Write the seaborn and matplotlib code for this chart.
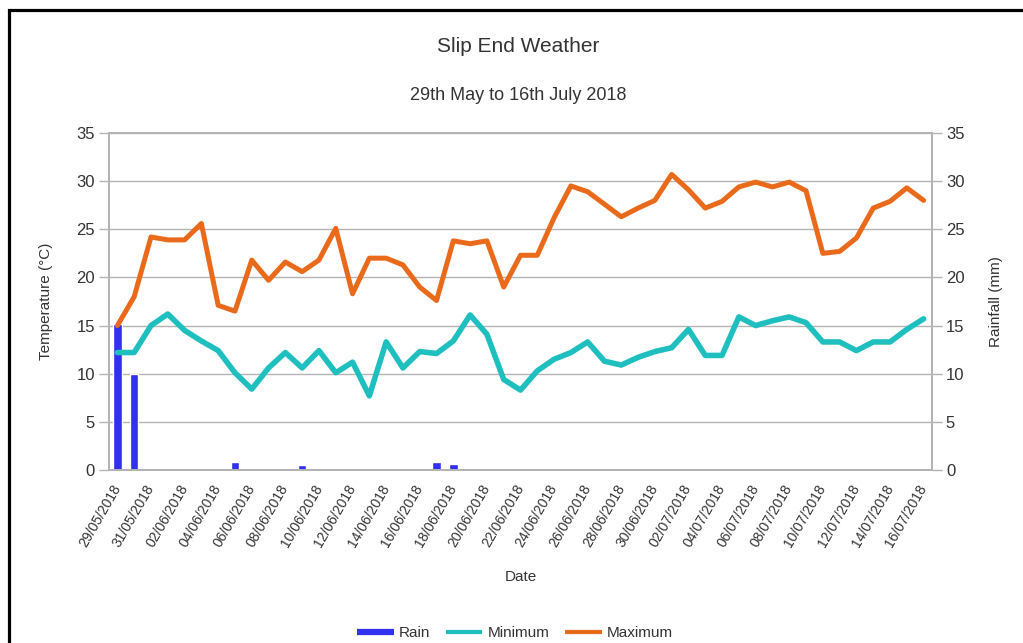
import matplotlib
matplotlib.use("Agg")
import matplotlib.pyplot as plt
from matplotlib.lines import Line2D
from matplotlib.patches import Rectangle
import numpy as np
import pandas as pd
import seaborn as sns

# daily readings, 29/05/2018 .. 16/07/2018
dates = pd.date_range("2018-05-29", "2018-07-16", freq="D")
date_labels = [d.strftime("%d/%m/%Y") for d in dates]

minimum = [12.2, 12.2, 15.0, 16.2, 14.5, 13.4, 12.4, 10.1, 8.4, 10.6,
           12.2, 10.6, 12.4, 10.1, 11.2, 7.7, 13.3, 10.6, 12.3, 12.1,
           13.4, 16.1, 14.1, 9.4, 8.3, 10.3, 11.5, 12.2, 13.3, 11.3,
           10.9, 11.7, 12.3, 12.7, 14.6, 11.9, 11.9, 15.9, 15.0, 15.5,
           15.9, 15.3, 13.3, 13.3, 12.4, 13.3, 13.3, 14.6, 15.7]

maximum = [15.0, 18.0, 24.2, 23.9, 23.9, 25.6, 17.1, 16.5, 21.8, 19.7,
           21.6, 20.6, 21.8, 25.1, 18.3, 22.0, 22.0, 21.3, 19.0, 17.6,
           23.8, 23.5, 23.8, 19.0, 22.3, 22.3, 26.2, 29.5, 28.9, 27.6,
           26.3, 27.2, 28.0, 30.7, 29.1, 27.2, 27.9, 29.4, 29.9, 29.4,
           29.9, 29.0, 22.5, 22.7, 24.1, 27.2, 27.9, 29.3, 28.0]

rain = [15.2, 10.0, 0, 0, 0, 0, 0, 0.8, 0, 0,
        0, 0.5, 0, 0.2, 0, 0, 0.2, 0, 0, 0.8,
        0.6, 0, 0, 0, 0, 0, 0, 0, 0, 0,
        0, 0, 0, 0, 0, 0, 0, 0, 0, 0,
        0, 0, 0, 0, 0, 0, 0, 0, 0]

df = pd.DataFrame({"day": np.arange(len(dates)), "date": date_labels,
                   "Minimum": minimum, "Maximum": maximum, "Rain": rain})

sns.set_theme(style="white")
plt.rcParams["font.family"] = ["Liberation Sans", "DejaVu Sans"]

rain_col = "#3030ee"
min_col = "#1fbfbf"
max_col = "#ea6a1c"
grey = "#b3b3b3"
txt = "#333333"

fig = plt.figure(figsize=(10.23, 6.43), dpi=100)
ax = fig.add_axes([109 / 1023, 1 - 470 / 643, (932 - 109) / 1023, (470 - 133) / 643])

sns.barplot(data=df, x="day", y="Rain", native_scale=True, width=0.5,
            color=rain_col, saturation=1, ax=ax, zorder=2)
sns.lineplot(data=df, x="day", y="Minimum", color=min_col, lw=4, ax=ax, zorder=3)
sns.lineplot(data=df, x="day", y="Maximum", color=max_col, lw=3.6, ax=ax, zorder=4)

ax.set_xlim(-0.5, len(dates) - 0.5)
ax.set_ylim(0, 35)
ax.set_yticks(range(0, 36, 5))
ax.yaxis.grid(True, color=grey, lw=1)
ax.set_axisbelow(True)

ax.set_xticks(df["day"][::2])
ax.set_xticklabels(df["date"][::2], rotation=60, ha="right", va="center",
                   rotation_mode="anchor", fontsize=10, color=txt)
ax.set_xticks(np.arange(-0.5, len(dates) - 1, 2), minor=True)
ax.tick_params(axis="x", which="major", length=0, pad=11)
ax.tick_params(axis="x", which="minor", length=8, color=grey, width=1)
ax.tick_params(axis="y", length=7, color=grey, width=1, labelsize=12,
               labelcolor=txt, pad=3, left=True)
for s in ax.spines.values():
    s.set_color(grey)

ax.set_xlabel("Date", fontsize=11, color=txt)
ax.xaxis.set_label_coords(0.5, -0.297)
ax.set_ylabel("Temperature (°C)", fontsize=11, color=txt)
ax.yaxis.set_label_coords(-0.068, 0.5)

ax2 = ax.twinx()
ax2.set_ylim(0, 35)
ax2.set_yticks(range(0, 36, 5))
ax2.tick_params(axis="y", length=7, color=grey, width=1, labelsize=12,
                labelcolor=txt, pad=3, right=True)
for s in ax2.spines.values():
    s.set_color(grey)
ax2.set_ylabel("Rainfall (mm)", fontsize=11, color=txt)
ax2.yaxis.set_label_coords(1.069, 0.5)

fig.text(518 / 1023, 1 - 46 / 643, "Slip End Weather", ha="center", va="center",
         fontsize=15, color=txt)
fig.text(518 / 1023, 1 - 96 / 643, "29th May to 16th July 2018", ha="center",
         va="center", fontsize=13, color=txt)

handles = [Line2D([], [], color=rain_col, lw=4.5, solid_capstyle="butt"),
           Line2D([], [], color=min_col, lw=3, solid_capstyle="butt"),
           Line2D([], [], color=max_col, lw=3, solid_capstyle="butt")]
fig.legend(handles, ["Rain", "Minimum", "Maximum"], loc="center",
           bbox_to_anchor=(515 / 1023, 1 - 633 / 643), ncol=3, frameon=False,
           fontsize=11, handlelength=2.4, handletextpad=0.35, columnspacing=1.0,
           labelcolor=txt)

# black frame round the picture
fig.add_artist(Rectangle((8.5 / 1023, -0.2), 1.2, 1.2 - 9.5 / 643,
                         transform=fig.transFigure, fill=False, lw=2.3,
                         edgecolor="black", clip_on=False))

fig.savefig("out.png", dpi=100, facecolor="white")
